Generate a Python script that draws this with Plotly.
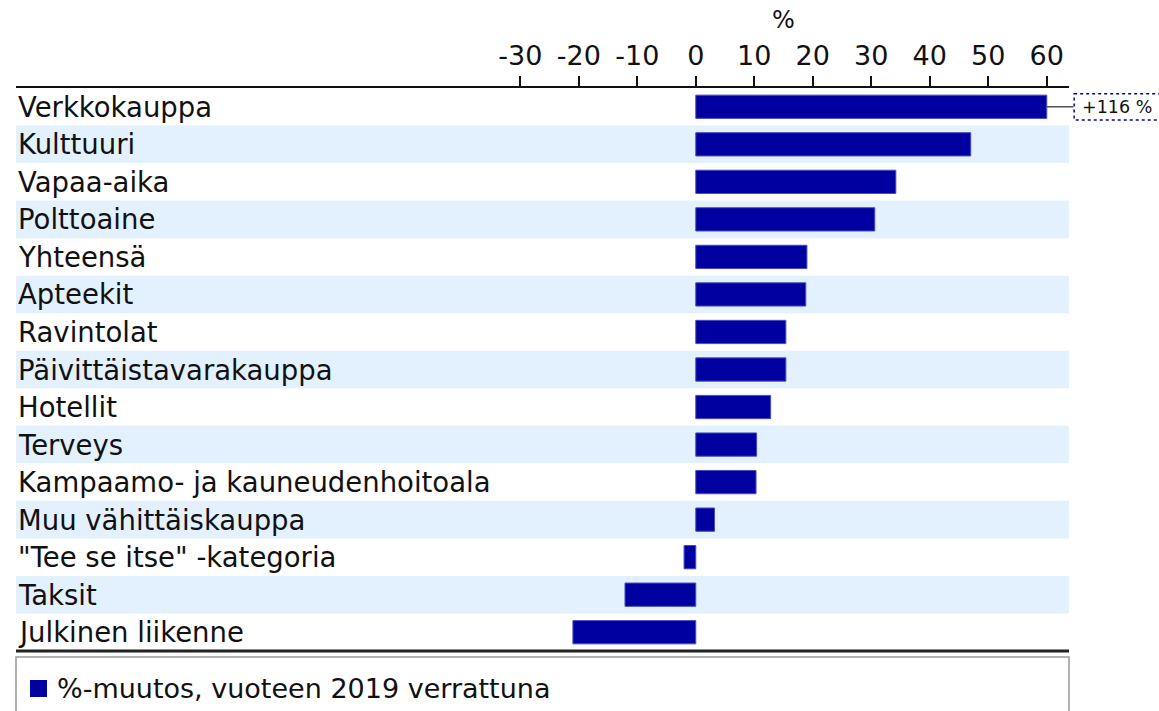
import plotly.graph_objects as go

categories = ["Verkkokauppa", "Kulttuuri", "Vapaa-aika", "Polttoaine", "Yhteensä", "Apteekit",
              "Ravintolat", "Päivittäistavarakauppa", "Hotellit", "Terveys",
              "Kampaamo- ja kauneudenhoitoala", "Muu vähittäiskauppa", "\"Tee se itse\" -kategoria",
              "Taksit", "Julkinen liikenne"]
values = [116, 47.0, 34.2, 30.6, 19.0, 18.8, 15.4, 15.4, 12.8, 10.4, 10.3, 3.2, -2.0, -12.1, -21.0]
tick_vals = [-30, -20, -10, 0, 10, 20, 30, 40, 50, 60]
tick_text = ["-30", "-20", "-10", "0", "10", "20", "30", "40", "50", "60"]
series_name = "%-muutos, vuoteen 2019 verrattuna"
axis_title = "%"
cap = 60

XMIN, XMAX = -116.2, 63.8
FONT = "DejaVu Sans"
BLUE = "#0000A0"
BAND = "#E3F0FD"

W, H = 1159, 711
ML, MR, MT, MB = 16, 90, 88, 60
PW, PH = W - ML - MR, H - MT - MB

shown = [min(v, cap) for v in values]
labels_over = [f"+{v:g} %" if v > cap else "" for v in values]

fig = go.Figure()
fig.add_trace(go.Bar(
    y=categories, x=shown, orientation="h", name=series_name,
    marker=dict(color=BLUE, line=dict(color="#4a4ac8", width=1)),
    width=0.62, showlegend=False, hoverinfo="skip",
))

shapes = []
annotations = []
for i, c in enumerate(categories):
    if i % 2 == 1:
        shapes.append(dict(type="rect", xref="paper", yref="y", x0=0, x1=1,
                           y0=i - 0.5, y1=i + 0.5, fillcolor=BAND, line=dict(width=0),
                           layer="below"))
    annotations.append(dict(text=c, xref="paper", yref="y", x=0, xshift=0, y=i,
                            xanchor="left", yanchor="middle", showarrow=False,
                            font=dict(family=FONT, size=27.5, color="#111")))

def px(v):
    return (v - XMIN) / (XMAX - XMIN)

for i, t in enumerate(labels_over):
    if t:
        x_end = px(cap)
        shapes.append(dict(type="line", xref="paper", yref="y", x0=x_end, x1=x_end + 0.025,
                           y0=i, y1=i, line=dict(color="#555", width=1.5)))
        shapes.append(dict(type="rect", xref="paper", yref="y", x0=x_end + 0.026, x1=1.1,
                           y0=i - 0.35, y1=i + 0.35, line=dict(color=BLUE, width=1.5, dash="dot")))
        annotations.append(dict(text=t, xref="paper", yref="y", x=x_end + 0.032, y=i,
                                xanchor="left", yanchor="middle", showarrow=False,
                                font=dict(family=FONT, size=17.5, color="#111")))

# bottom line
shapes.append(dict(type="line", xref="paper", yref="paper", x0=0, x1=1, y0=0, y1=0,
                   line=dict(color="#222", width=3)))
# legend box (extends below the visible page, as in the original)
shapes.append(dict(type="rect", xref="paper", yref="paper", x0=0, x1=1, y0=-6 / PH, y1=-80 / PH,
                   line=dict(color="#999", width=1.5)))
# legend swatch + text
shapes.append(dict(type="rect", xref="paper", yref="paper", x0=14 / PW, x1=31 / PW,
                   y0=-29 / PH, y1=-46 / PH, fillcolor=BLUE, line=dict(width=0)))
annotations.append(dict(text=series_name, xref="paper", yref="paper", x=39 / PW, y=-37 / PH,
                        xanchor="left", yanchor="middle", showarrow=False,
                        font=dict(family=FONT, size=27, color="#111")))

annotations.append(dict(text=axis_title, xref="x", yref="paper", x=15, y=1.0, yshift=68,
                        xanchor="center", yanchor="middle", showarrow=False,
                        font=dict(family=FONT, size=24, color="#111")))

fig.update_layout(
    width=W, height=H,
    margin=dict(l=ML, r=MR, t=MT, b=MB),
    paper_bgcolor="white", plot_bgcolor="white",
    font=dict(family=FONT, size=26, color="#111"),
    xaxis=dict(range=[XMIN, XMAX], side="top", tickvals=tick_vals, ticktext=tick_text,
               ticks="outside", ticklen=10, tickwidth=1.5, tickcolor="#111",
               showline=True, linecolor="#111", linewidth=2, showgrid=False, zeroline=False,
               tickfont=dict(family=FONT, size=27, color="#111"), fixedrange=True),
    yaxis=dict(showticklabels=False, showgrid=False, zeroline=False,
               showline=False, ticks="", range=[len(categories) - 0.5, -0.5], fixedrange=True),
    shapes=shapes, annotations=annotations,
    showlegend=False,
)
fig.write_html("out.html", config={"displayModeBar": False},
               post_script="document.body.style.margin='0';document.body.style.overflow='hidden';")
